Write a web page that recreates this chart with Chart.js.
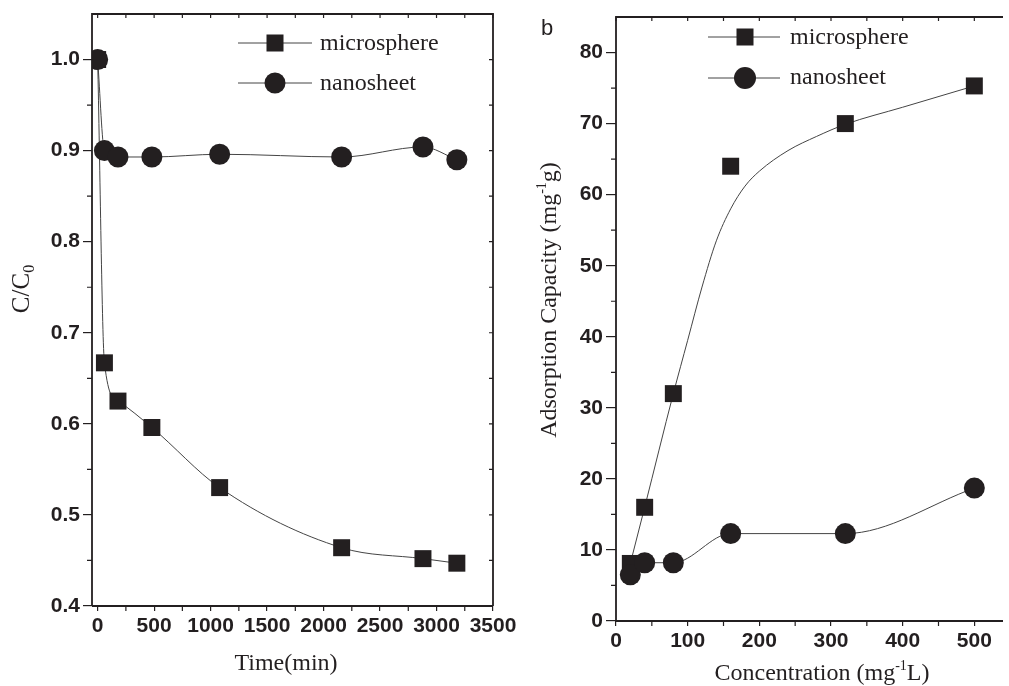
<!DOCTYPE html>
<html><head><meta charset="utf-8">
<script src="https://cdn.jsdelivr.net/npm/chart.js@4"></script>
<style>
html,body{margin:0;padding:0;background:#fff;width:1009px;height:686px;overflow:hidden;position:relative}
#w1{position:absolute;left:0;top:0;width:520px;height:686px}
#w2{position:absolute;left:495px;top:0;width:520px;height:686px}
</style></head><body>
<div id="w1"><canvas id="c1"></canvas></div>
<div id="w2"><canvas id="c2"></canvas></div>
<script>
// ---- panel a: C/C0 vs time ----
const timeMin   = [0, 60, 180, 480, 1080, 2160, 2880, 3180];
const microTime = [1.0, 0.667, 0.625, 0.596, 0.530, 0.464, 0.452, 0.447];
const nanoTime  = [1.0, 0.900, 0.893, 0.893, 0.896, 0.893, 0.904, 0.890];
const timeTicks  = [0, 500, 1000, 1500, 2000, 2500, 3000, 3500];
const ratioTicks = [0.4, 0.5, 0.6, 0.7, 0.8, 0.9, 1.0];

// ---- panel b: adsorption capacity vs concentration ----
const conc     = [20, 40, 80, 160, 320, 500];
const microCap = [8.1, 16.0, 32.0, 64.0, 70.0, 75.3];
const nanoCap  = [6.5, 8.2, 8.2, 12.3, 12.3, 18.7];
// fitted curve for microsphere
const fitConc  = [20, 40, 80, 100, 120, 140, 160, 180, 200, 240, 280, 320, 400, 500];
const fitCap   = [8.1, 16.0, 32.0, 39.5, 47.0, 53.5, 58.0, 61.2, 63.3, 66.2, 68.2, 69.9, 72.3, 75.3];
const concTicks = [0, 100, 200, 300, 400, 500];
const capTicks  = [0, 10, 20, 30, 40, 50, 60, 70, 80];

const INK = '#231f20';
const LINE = '#444';
const SERIF = '"Liberation Serif","Times New Roman",serif';
const SANS = '"Liberation Sans",Arial,sans-serif';

function pts(xs, ys){ return xs.map((x,i)=>({x:x, y:ys[i]})); }
function mids(arr){ const r=[]; for(let i=0;i<arr.length-1;i++) r.push((arr[i]+arr[i+1])/2); return r; }

function drawRuns(ctx, runs, x, y){
  let total = 0;
  runs.forEach(r=>{ ctx.font = r.size+'px '+SERIF; r.w = ctx.measureText(r.t).width; total += r.w; });
  let cx = x - total/2;
  ctx.textAlign = 'left'; ctx.textBaseline = 'alphabetic'; ctx.fillStyle = INK;
  runs.forEach(r=>{ ctx.font = r.size+'px '+SERIF; ctx.fillText(r.t, cx, y + (r.dy||0)); cx += r.w; });
}

const deco = {
  id: 'deco',
  afterDatasetsDraw(chart, args, o){
    const ctx = chart.ctx, a = chart.chartArea, xs = chart.scales.x, ys = chart.scales.y;
    ctx.save();
    ctx.strokeStyle = INK; ctx.lineWidth = 1.8;
    ctx.beginPath();
    ctx.moveTo(a.left, a.bottom); ctx.lineTo(a.left, a.top); ctx.lineTo(a.right, a.top);
    if (o.rightBorder) ctx.lineTo(a.right, a.bottom);
    ctx.moveTo(a.left, a.bottom); ctx.lineTo(a.right, a.bottom);
    ctx.stroke();
    ctx.lineWidth = 1.2;
    ctx.beginPath();
    const xMin = mids(o.xTicks), yMin = mids(o.yTicks);
    xMin.forEach(v=>{ const p = xs.getPixelForValue(v); ctx.moveTo(p, a.bottom); ctx.lineTo(p, a.bottom+5); });
    yMin.forEach(v=>{ const p = ys.getPixelForValue(v); ctx.moveTo(a.left, p); ctx.lineTo(a.left-5, p); });
    o.xTicks.concat(xMin).forEach(v=>{ const p = xs.getPixelForValue(v); ctx.moveTo(p, a.top); ctx.lineTo(p, a.top+4); });
    if (o.rightBorder) o.yTicks.concat(yMin).forEach(v=>{ const p = ys.getPixelForValue(v); ctx.moveTo(a.right, p); ctx.lineTo(a.right-4, p); });
    ctx.stroke();
    ctx.restore();
  },
  afterDraw(chart, args, o){
    const ctx = chart.ctx, off = o.offset;
    ctx.save();
    o.legend.rows.forEach(r=>{
      ctx.strokeStyle = LINE; ctx.lineWidth = 1;
      ctx.beginPath(); ctx.moveTo(o.legend.x0-off, r.y); ctx.lineTo(o.legend.x1-off, r.y); ctx.stroke();
      ctx.fillStyle = INK;
      const mx = o.legend.xm - off;
      if (r.shape === 'rect'){ ctx.fillRect(mx-8.5, r.y-8.5, 17, 17); }
      else { ctx.beginPath(); ctx.arc(mx, r.y, r.rad, 0, Math.PI*2); ctx.fill(); }
      ctx.font = '24px '+SERIF; ctx.textAlign='left'; ctx.textBaseline='alphabetic';
      ctx.fillText(r.text, o.legend.xt-off, r.base);
    });
    drawRuns(ctx, o.xTitle.runs, o.xTitle.x-off, o.xTitle.y);
    ctx.save();
    ctx.translate(o.yTitle.x-off, o.yTitle.y);
    ctx.rotate(-Math.PI/2);
    drawRuns(ctx, o.yTitle.runs, 0, 0);
    ctx.restore();
    if (o.panel){
      ctx.fillStyle = INK; ctx.font = '22px '+SANS; ctx.textAlign='left'; ctx.textBaseline='alphabetic';
      ctx.fillText(o.panel.t, o.panel.x-off, o.panel.y);
    }
    ctx.restore();
  }
};

function axis(min, max, tickVals, fixedSize, horizontal, fmt, tickLen, pad){
  return {
    type: 'linear', min: min, max: max,
    afterBuildTicks: s => { s.ticks = tickVals.map(v=>({value:v})); },
    afterFit: s => {
      if (horizontal) s.height = fixedSize; else s.width = fixedSize;
      s.paddingLeft = 0; s.paddingRight = 0; s.paddingTop = 0; s.paddingBottom = 0;
    },
    grid: { display: true, drawOnChartArea: false, drawTicks: true, tickLength: tickLen, color: INK, tickColor: INK, lineWidth: 1.2 },
    border: { display: false },
    ticks: { font: { family: SANS, weight: 'bold', size: 21 }, color: INK, padding: pad, maxRotation: 0, minRotation: 0, autoSkip: false, callback: fmt }
  };
}

function lineDs(label, data, shape, rad, order){
  return { label, data, showLine: true, cubicInterpolationMode: 'monotone', borderColor: LINE, borderWidth: 1,
    pointStyle: shape, pointRadius: rad, pointHoverRadius: rad, pointBackgroundColor: INK, pointBorderColor: INK, pointBorderWidth: 0, order };
}

Chart.defaults.animation = false;

new Chart(document.getElementById('c1'), {
  type: 'scatter',
  data: { datasets: [
    lineDs('nanosheet', pts(timeMin, nanoTime), 'circle', 10.5, 0),
    lineDs('microsphere', pts(timeMin, microTime), 'rect', 12, 1)
  ]},
  options: {
    responsive: true, maintainAspectRatio: false, animation: false,
    layout: { padding: { left: 0, top: 14, right: 27, bottom: 0 } },
    plugins: { legend: { display: false }, tooltip: { enabled: false },
      deco: {
        offset: 0, rightBorder: true, xTicks: timeTicks, yTicks: ratioTicks,
        legend: { x0: 238, x1: 312, xm: 275, xt: 320, rows: [
          { y: 43, shape: 'rect', text: 'microsphere', base: 50 },
          { y: 83, shape: 'circle', rad: 10.5, text: 'nanosheet', base: 89.5 } ] },
        xTitle: { x: 286, y: 670, runs: [ { t: 'Time(min)', size: 24 } ] },
        yTitle: { x: 29, y: 289, runs: [ { t: 'C/C', size: 25 }, { t: '0', size: 16, dy: 5 } ] }
      } },
    scales: {
      x: axis(-50, 3500, timeTicks, 80, true, v => String(v), 5, 3),
      y: axis(0.4, 1.05, ratioTicks, 92, false, v => v.toFixed(1), 9, 3)
    }
  },
  plugins: [deco]
});

new Chart(document.getElementById('c2'), {
  type: 'scatter',
  data: { datasets: [
    lineDs('nanosheet', pts(conc, nanoCap), 'circle', 10.5, 0),
    Object.assign(lineDs('microsphere', pts(conc, microCap), 'rect', 12, 1), { showLine: false }),
    Object.assign(lineDs('microsphere fit', pts(fitConc, fitCap), 'circle', 0, 2), { pointRadius: 0, pointHoverRadius: 0 })
  ]},
  options: {
    responsive: true, maintainAspectRatio: false, animation: false,
    layout: { padding: { left: 0, top: 17, right: 5, bottom: 0 } },
    plugins: { legend: { display: false }, tooltip: { enabled: false },
      deco: {
        offset: 495, rightBorder: false, xTicks: concTicks, yTicks: capTicks,
        legend: { x0: 708, x1: 780, xm: 745, xt: 790, rows: [
          { y: 37, shape: 'rect', text: 'microsphere', base: 43.5 },
          { y: 78, shape: 'circle', rad: 11, text: 'nanosheet', base: 83.5 } ] },
        xTitle: { x: 822, y: 680, runs: [ { t: 'Concentration (mg', size: 24 }, { t: '-1', size: 14, dy: -10 }, { t: 'L)', size: 24 } ] },
        yTitle: { x: 556, y: 300, runs: [ { t: 'Adsorption Capacity (mg', size: 24 }, { t: '-1', size: 14, dy: -10 }, { t: 'g)', size: 24 } ] },
        panel: { t: 'b', x: 541, y: 35 }
      } },
    scales: {
      x: axis(0, 540, concTicks, 65, true, v => String(v), 5, 3),
      y: axis(0, 85, capTicks, 121, false, v => String(v), 10, 3)
    }
  },
  plugins: [deco]
});
</script>
</body></html>
